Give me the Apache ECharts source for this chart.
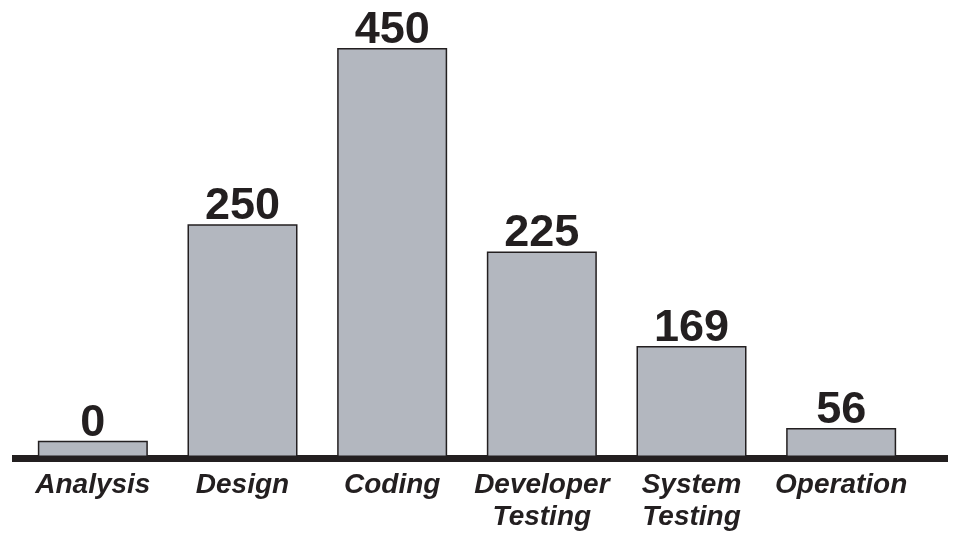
<!DOCTYPE html>
<html>
<head>
<meta charset="utf-8">
<script src="https://cdn.jsdelivr.net/npm/echarts@6/dist/echarts.min.js"></script>
<style>html,body{margin:0;padding:0;background:#fff;}#c{width:954px;height:533px;}</style>
</head>
<body>
<div id="c"></div>
<script>
// Categories (phases)
var categories = ['Analysis', 'Design', 'Coding', 'Developer\nTesting', 'System\nTesting', 'Operation'];
// Numbers printed above each bar
var labelValues = [0, 250, 450, 225, 169, 56];
// Bar heights as drawn in the picture (same scale, Coding = 450)
var barHeights = [18, 256, 450, 226, 122, 32];

var chart = echarts.init(document.getElementById('c'));
var font = '"Liberation Sans", Arial, sans-serif';
chart.setOption({
  animation: false,
  grid: [
    {left: 18, width: 898, top: 48, bottom: 75},
    {left: 12, right: 6, top: 48, bottom: 75}
  ],
  xAxis: [
    {
      type: 'category', gridIndex: 0, data: categories,
      axisLine: {show: false}, axisTick: {show: false},
      axisLabel: {
        color: '#231f20', fontFamily: font, fontSize: 28, fontWeight: 'bold',
        fontStyle: 'italic', lineHeight: 32, margin: 12, interval: 0
      }
    },
    {
      type: 'category', gridIndex: 1, data: [],
      axisLine: {show: true, lineStyle: {color: '#231f20', width: 7, cap: 'butt'}},
      axisTick: {show: false}, axisLabel: {show: false}
    }
  ],
  yAxis: [
    {type: 'value', gridIndex: 0, min: 0, max: 450, show: false, splitLine: {show: false}},
    {type: 'value', gridIndex: 1, show: false, splitLine: {show: false}}
  ],
  series: [{
    type: 'bar', xAxisIndex: 0, yAxisIndex: 0,
    data: barHeights,
    barWidth: 110,
    itemStyle: {color: '#b3b7bf', borderColor: '#231f20', borderWidth: 1.5},
    label: {
      show: true, position: 'top', distance: -5,
      color: '#231f20', fontFamily: font, fontSize: 45, fontWeight: 'bold',
      formatter: function (p) { return String(labelValues[p.dataIndex]); }
    },
    z: 1
  }]
});
</script>
</body>
</html>
